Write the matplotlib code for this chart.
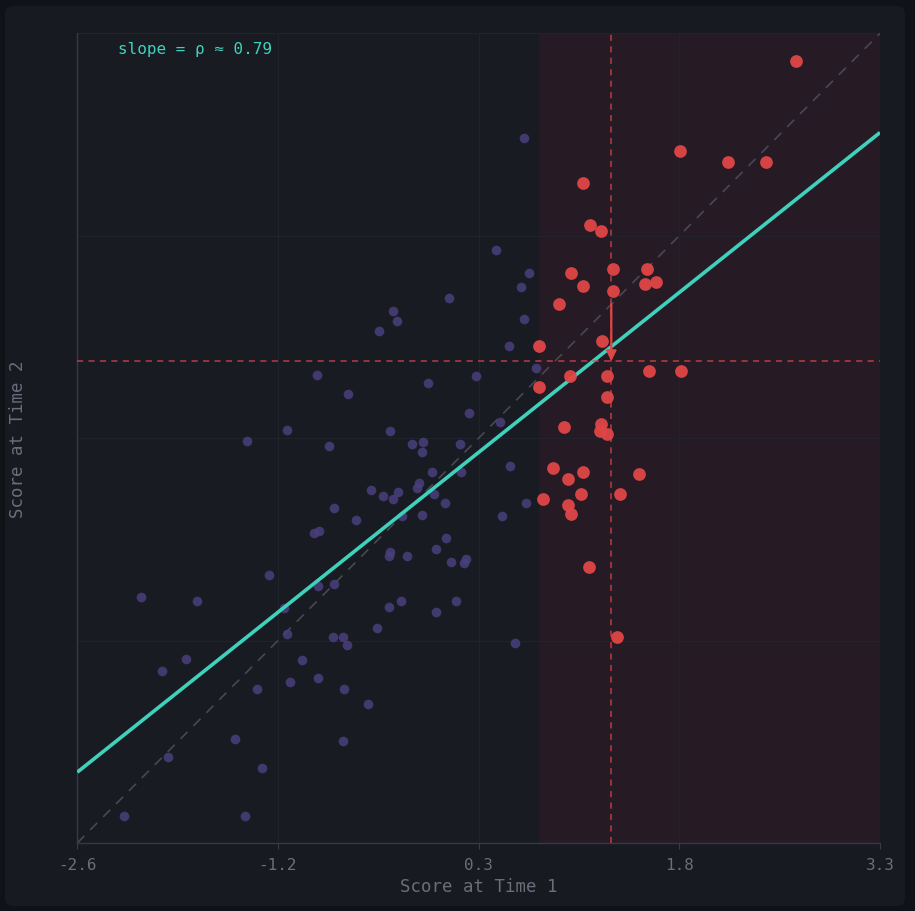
import numpy as np
import matplotlib
matplotlib.use('Agg')
import matplotlib.pyplot as plt
from matplotlib.patches import FancyBboxPatch

# scores of the students outside the top group (time 1, time 2)
base_t1 = [0.68, 0.48, 0.72, 0.66, 0.13, -0.28, -0.25, -0.38, 0.68, 0.57,
           0.77, 0.33, -0.84, -0.61, -0.02, 0.28, 0.51, -1.06, -1.35, -0.30,
           -0.75, -0.14, -0.06, -0.07, 0.21, 0.01, 0.22, 0.58, -0.44, -0.35,
           -0.28, -0.24, -0.10, -0.09, 0.02, 0.10, -0.07, -0.21, -0.71, -0.55,
           -0.86, -0.82, 0.52, 0.70, 0.11, 0.04, -0.30, -0.31, -0.18, 0.15,
           0.26, 0.24, -2.13, -1.72, -1.19, -1.80, -1.98, -1.93, -2.26, -1.44,
           -1.24, -1.37, -1.28, -1.04, -0.83, -0.95, -1.06, -1.08, -0.83, -0.71,
           -0.72, -0.65, -0.62, -0.64, -0.46, -0.65, -0.40, -0.31, -0.22, 0.04,
           0.18, 0.62]
base_t2 = [2.54, 1.72, 1.55, 1.45, 1.37, 1.28, 1.20, 1.13, 1.22, 1.02,
           0.86, 0.80, 0.81, 0.67, 0.75, 0.53, 0.47, 0.41, 0.33, 0.40,
           0.29, 0.31, 0.32, 0.25, 0.31, 0.10, 0.10, 0.15, -0.03, -0.07,
           -0.09, -0.04, -0.01, 0.02, -0.06, -0.12, -0.21, -0.22, -0.16, -0.25,
           -0.34, -0.33, -0.22, -0.12, -0.38, -0.46, -0.48, -0.51, -0.51, -0.55,
           -0.53, -0.56, -0.81, -0.84, -0.65, -1.26, -1.35, -1.97, -2.40, -1.84,
           -2.05, -2.40, -1.48, -1.43, -1.40, -1.27, -1.08, -0.89, -0.73, -0.71,
           -1.10, -1.10, -1.16, -1.48, -1.59, -1.86, -1.03, -0.88, -0.84, -0.92,
           -0.84, -1.14]

# top group selected on time 1
top_t1 = [2.68, 1.83, 2.18, 2.46, 1.12, 1.17, 1.25, 1.34, 1.59, 1.57,
          1.65, 1.03, 1.12, 1.34, 0.94, 0.79, 1.26, 1.02, 1.29, 1.60,
          1.84, 0.79, 1.29, 0.98, 1.25, 1.24, 1.29, 0.90, 1.01, 1.12,
          1.53, 0.82, 1.10, 1.39, 1.01, 1.03, 1.16, 1.37]
top_t2 = [3.10, 2.44, 2.36, 2.36, 2.21, 1.90, 1.86, 1.58, 1.58, 1.47,
          1.49, 1.55, 1.46, 1.42, 1.33, 1.02, 1.06, 0.80, 0.80, 0.84,
          0.84, 0.72, 0.65, 0.43, 0.45, 0.40, 0.38, 0.13, 0.05, 0.10,
          0.09, -0.09, -0.06, -0.06, -0.14, -0.20, -0.59, -1.10]

rho = 0.79
intercept = -0.03
lims = (-2.6, 3.3)
tick_labels = ['-2.6', '-1.2', '0.3', '1.8', '3.3']

BG = '#171a21'
PLOT_BG = '#191b23'
TEAL = '#3fd1bb'
RED = '#e04646'
PURPLE = '#4a3f7c'
MUTED = '#6b6e7a'
FONT = 'DejaVu Sans Mono'

fig = plt.figure(figsize=(9.15, 9.12), dpi=100)
fig.patch.set_facecolor('#111218')
card = FancyBboxPatch((5 / 915, 5 / 912), 900 / 915, 900 / 912,
                      boxstyle='round,pad=0,rounding_size=0.009',
                      transform=fig.transFigure, facecolor=BG, edgecolor='none',
                      zorder=-10)
fig.patches.append(card)

ax = fig.add_axes([77.3 / 915, 68 / 912, 802.7 / 915, 809.7 / 912])
ax.set_facecolor(PLOT_BG)
ax.set_xlim(*lims)
ax.set_ylim(*lims)

ticks = np.linspace(lims[0], lims[1], 5)
ax.set_xticks(ticks)
ax.set_xticklabels(tick_labels, fontfamily=FONT, fontsize=11.5, color=MUTED)
ax.set_yticks(ticks)
ax.set_yticklabels([])
ax.tick_params(axis='x', length=4, color='#3a3d48', pad=6)
ax.tick_params(axis='y', length=0)
ax.grid(True, color='#20232b', linewidth=0.8)
ax.set_axisbelow(True)
for s in ['top', 'right']:
    ax.spines[s].set_visible(False)
for s in ['left', 'bottom']:
    ax.spines[s].set_color('#363945')
    ax.spines[s].set_linewidth(1)

t1_top = np.array(top_t1)
t2_top = np.array(top_t2)
cutoff = t1_top.min()
mx = t1_top.mean()
my = t2_top.mean()

# selected region
ax.axvspan(cutoff, lims[1], color='#3a1c26', alpha=0.42, lw=0, zorder=0.5)

# identity line
ax.plot(lims, lims, color='#464853', lw=1.2, ls=(0, (6, 5)), zorder=1)

ax.scatter(base_t1, base_t2, s=48, color=PURPLE, alpha=0.85, lw=0, zorder=2)

# regression line
xs = np.array(lims)
ax.plot(xs, rho * xs + intercept, color=TEAL, lw=2.6, zorder=3, solid_capstyle='butt')

ax.axhline(my, color=RED, lw=1.1, ls=(0, (4, 3.5)), alpha=0.8, zorder=3)
ax.axvline(mx, color=RED, lw=1.1, ls=(0, (4, 3.5)), alpha=0.8, zorder=3)

ax.scatter(top_t1, top_t2, s=84, color=RED, alpha=0.95, lw=0, zorder=4)

ax.annotate('', xy=(mx, my), xytext=(mx, mx),
            arrowprops=dict(arrowstyle='-|>,head_length=0.6,head_width=0.3',
                            color=RED, lw=1.6, shrinkA=0, shrinkB=0), zorder=5)

ax.text(-2.3, 3.19, 'slope = \u03c1 \u2248 %.2f' % rho, color=TEAL, fontfamily=FONT,
        fontsize=11.5, va='center', ha='left')

ax.set_xlabel('Score at Time 1', fontfamily=FONT, fontsize=12.5, color=MUTED, labelpad=4)
ax.set_ylabel('Score at Time 2', fontfamily=FONT, fontsize=12.5, color=MUTED, labelpad=33)

fig.savefig('out.png', dpi=100, facecolor=fig.get_facecolor())
